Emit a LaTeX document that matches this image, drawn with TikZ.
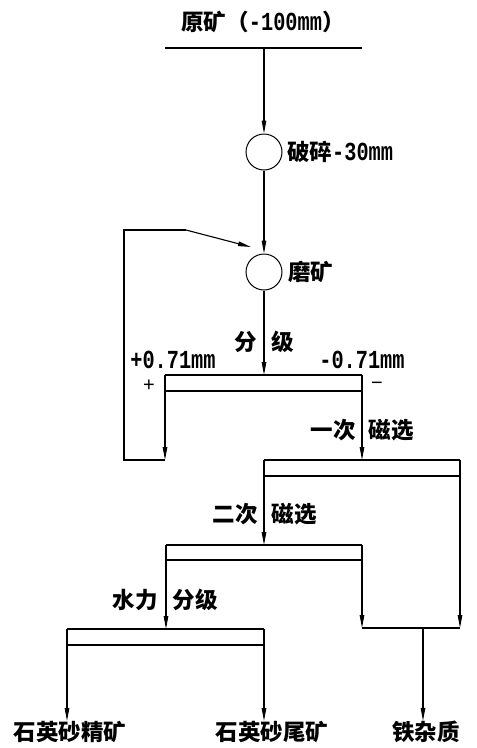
\documentclass[tikz,border=0pt]{standalone}
\usepackage{fontspec}
\setmainfont{Noto Sans CJK SC}
\newfontfamily\monof{Liberation Mono}
\newfontfamily\signf{Liberation Sans}
\usetikzlibrary{arrows.meta}
\newcommand\latn[1]{\scalebox{0.78}[1]{\monof\fontsize{26}{28}\selectfont\bfseries #1}}
\tikzset{
  ln/.style={line width=1.1pt, black},
  arr/.style={ln, -{Triangle[length=13pt,width=4.5pt]}},
  lbl/.style={inner sep=0pt, font=\fontsize{22.5}{25}\selectfont\bfseries},
  sgn/.style={inner sep=0pt, font=\signf\fontsize{20}{20}\selectfont},
  proc/.style={draw, line width=1pt, circle, minimum size=36pt, inner sep=0pt},
}
\begin{document}
\begin{tikzpicture}[x=1pt,y=-1pt]
\useasboundingbox (0,0) rectangle (477,748);
% top feed
\node[lbl] (raw) at (263,22) {原矿（\latn{-100mm}）};
\coordinate (rawL) at (165,48);
\coordinate (rawR) at (362,48);
\coordinate (rawM) at (264,48);
\draw[ln] (rawL) -- (rawR);
% crushing and grinding
\node[proc] (c1) at (264,152) {};
\node[lbl, anchor=west] (t1) at (287,152) {破碎\latn{-30mm}};
\node[proc] (c2) at (264,272) {};
\node[lbl, anchor=west] (t2) at (288,272) {磨矿};
\draw[arr] (rawM) -- (c1.north);
\draw[arr] (c1.south) -- (c2.north);
% screen 1 (classification)
\coordinate (s1L) at (165,375);
\coordinate (s1R) at (362,375);
\coordinate (s1M) at (264,375);
\coordinate (s1Lb) at (165,391);
\coordinate (s1Rb) at (362,391);
\coordinate (s1Lend) at (165,460);
\coordinate (s1Rend) at (362,460);
\draw[arr] (c2.south) -- (s1M);
\draw[ln] (s1L) -- (s1R);
\draw[ln] (s1Lb) -- (s1Rb);
\draw[arr] (s1L) -- (s1Lend);
\draw[arr] (s1R) -- (s1Rend);
\node[lbl] (fen1) at (246,342) {分};
\node[lbl] (ji1) at (283,342) {级};
\node[lbl] (plus) at (173,360) {\latn{+0.71mm}};
\node[lbl] (minus) at (362,360) {\latn{-0.71mm}};
\node[sgn] (ps) at (149,386) {+};
\node[sgn] (ms) at (377,386) {−};
% recycle loop
\coordinate (r0) at (124,460);
\coordinate (r1) at (124,230);
\coordinate (r2) at (186,230);
\coordinate (r3) at (251,247);
\draw[ln] (s1Lend) -- (r0) -- (r1) -- (r2);
\draw[arr] (r2) -- (r3);
% screen 2 (first magnetic)
\node[lbl] (m1a) at (333,430) {一次};
\node[lbl] (m1b) at (391,430) {磁选};
\coordinate (s2L) at (264,460);
\coordinate (s2R) at (460,460);
\coordinate (s2Lb) at (264,476);
\coordinate (s2Rb) at (460,476);
\coordinate (s2Lend) at (264,545);
\coordinate (s2Rend) at (460,628);
\draw[ln] (s2L) -- (s2R);
\draw[ln] (s2Lb) -- (s2Rb);
\draw[arr] (s2L) -- (s2Lend);
\draw[arr] (s2R) -- (s2Rend);
% screen 3 (second magnetic)
\node[lbl] (m2a) at (235,514) {二次};
\node[lbl] (m2b) at (294,514) {磁选};
\coordinate (s3L) at (166,545);
\coordinate (s3R) at (362,545);
\coordinate (s3Lb) at (166,560);
\coordinate (s3Rb) at (362,560);
\coordinate (s3Lend) at (166,629);
\coordinate (s3Rend) at (362,628);
\draw[ln] (s3L) -- (s3R);
\draw[ln] (s3Lb) -- (s3Rb);
\draw[arr] (s3L) -- (s3Lend);
\draw[arr] (s3R) -- (s3Rend);
% iron join
\coordinate (jM) at (423,628);
\draw[ln] (s3Rend) -- (s2Rend);
\node[lbl] (fe) at (426,732) {铁杂质};
\draw[arr] (jM) -- (jM |- fe.north);
% screen 4 (hydraulic classification)
\node[lbl] (h1) at (135,600) {水力};
\node[lbl] (h2) at (195,600) {分级};
\coordinate (s4L) at (67,629);
\coordinate (s4R) at (264,629);
\coordinate (s4Lb) at (67,645);
\coordinate (s4Rb) at (264,645);
\draw[ln] (s4L) -- (s4R);
\draw[ln] (s4Lb) -- (s4Rb);
\node[lbl] (conc) at (70,732) {石英砂精矿};
\node[lbl] (tail) at (272,732) {石英砂尾矿};
\draw[arr] (s4L) -- (s4L |- conc.north);
\draw[arr] (s4R) -- (s4R |- tail.north);
\end{tikzpicture}
\end{document}
